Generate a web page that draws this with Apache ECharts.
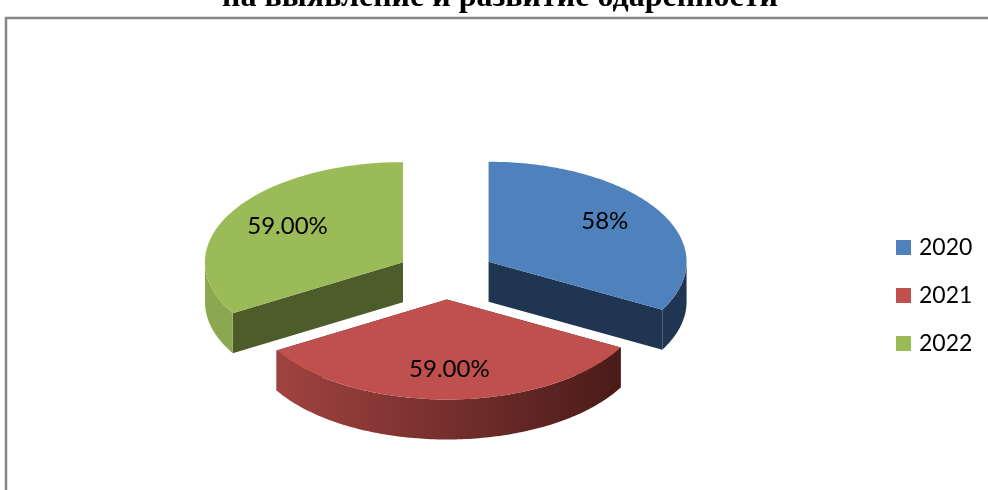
<!DOCTYPE html>
<html>
<head>
<meta charset="utf-8">
<title>chart</title>
<script src="https://cdn.jsdelivr.net/npm/echarts@6/dist/echarts.min.js"></script>
<style>
    html, body { margin: 0; padding: 0; background: #fff; overflow: hidden; }
    #main { width: 988px; height: 490px; }
</style>
</head>
<body>
<div id="main"></div>
<script>
var titleText = "на выявление и развитие одаренности";
var years = ["2020", "2021", "2022"];
var values = [58, 59, 59];
var valueLabels = ["58%", "59.00%", "59.00%"];

// pie geometry, tilted like the office 3d pie
var pie = { cx: 446, cy: 274.5, rx: 198, ry: 100, depth: 40, explode: 0.25 };
var topColors = ["#4F81BD", "#C0504D", "#9BBB59"];
var sideColors = ["#1F3552", "#4A1C1A", "#4D5C2B"];
var wallColors = [["#1F3552", "#1F3552"], ["#A04340", "#4A1B19"], ["#8BA850", "#8BA850"]];
var labelShift = [[-3, -5], [0, 0], [5, -1]];

var total = 0;
for (var k = 0; k < values.length; k++) {
    total += values[k];
}

function sliceAngles(idx) {
    var sum = 0;
    for (var i = 0; i < idx; i++) {
        sum += values[i];
    }
    return [sum / total * 360, (sum + values[idx]) / total * 360];
}

function onEllipse(c, deg, scale) {
    var a = deg * Math.PI / 180;
    return [c[0] + pie.rx * scale * Math.sin(a), c[1] - pie.ry * scale * Math.cos(a)];
}

function arcPoints(c, from, to) {
    var pts = [];
    for (var d = from; d < to; d += 1) {
        pts.push(onEllipse(c, d, 1));
    }
    pts.push(onEllipse(c, to, 1));
    return pts;
}

function renderSlice(idx) {
    return function () {
        var ang = sliceAngles(idx);
        var mid = (ang[0] + ang[1]) / 2;
        var c = onEllipse([pie.cx, pie.cy], mid, pie.explode);
        var down = function (p) { return [p[0], p[1] + pie.depth]; };
        var children = [];

        // cut faces looking at the viewer
        [ang[0], ang[1]].forEach(function (a) {
            if (a > 90 && a < 270) {
                var e = onEllipse(c, a, 1);
                children.push({
                    type: "polygon",
                    shape: { points: [c, e, down(e), down(c)] },
                    style: { fill: sideColors[idx] }
                });
            }
        });

        // outer wall, only the front half of the ellipse shows
        var from = Math.max(ang[0], 90);
        var to = Math.min(ang[1], 270);
        if (from < to) {
            var arc = arcPoints(c, from, to);
            var back = arc.slice().reverse().map(down);
            children.push({
                type: "polygon",
                shape: { points: arc.concat(back) },
                style: {
                    fill: new echarts.graphic.LinearGradient(0, 0, 1, 0, [
                        { offset: 0, color: wallColors[idx][0] },
                        { offset: 1, color: wallColors[idx][1] }
                    ])
                }
            });
        }

        // top face
        children.push({
            type: "polygon",
            shape: { points: [c].concat(arcPoints(c, ang[0], ang[1])) },
            style: { fill: topColors[idx] }
        });

        var lp = onEllipse(c, mid, 0.7);
        children.push({
            type: "text",
            x: lp[0] + labelShift[idx][0],
            y: lp[1] + labelShift[idx][1],
            style: {
                text: valueLabels[idx],
                fill: "#000",
                fontFamily: "Lato",
                fontSize: 24,
                align: "center",
                verticalAlign: "middle"
            }
        });
        return { type: "group", children: children };
    };
}

var series = [];
years.forEach(function (y, i) {
    series.push({
        type: "custom",
        name: y,
        coordinateSystem: "none",
        renderItem: renderSlice(i),
        itemStyle: { color: topColors[i] },
        data: [values[i]],
        silent: true,
        animation: false
    });
});

var myChart = echarts.init(document.getElementById("main"));
myChart.setOption({
    backgroundColor: "#fff",
    animation: false,
    title: {
        text: titleText,
        left: 495,
        top: -23,
        textAlign: "center",
        textStyle: { fontFamily: "Liberation Serif", fontWeight: "bold", fontSize: 32, color: "#000" }
    },
    legend: {
        orient: "vertical",
        left: 891,
        top: 231,
        data: years,
        icon: "rect",
        itemWidth: 15,
        itemHeight: 15,
        itemGap: 25,
        textStyle: { fontFamily: "Lato", fontSize: 23, color: "#000", padding: [0, 0, 0, 3] }
    },
    graphic: [{
        type: "rect",
        z: -1,
        shape: { x: 6, y: 18, width: 1100, height: 600 },
        style: { fill: "none", stroke: "#868686", lineWidth: 2.5 }
    }],
    series: series
});
</script>
</body>
</html>
